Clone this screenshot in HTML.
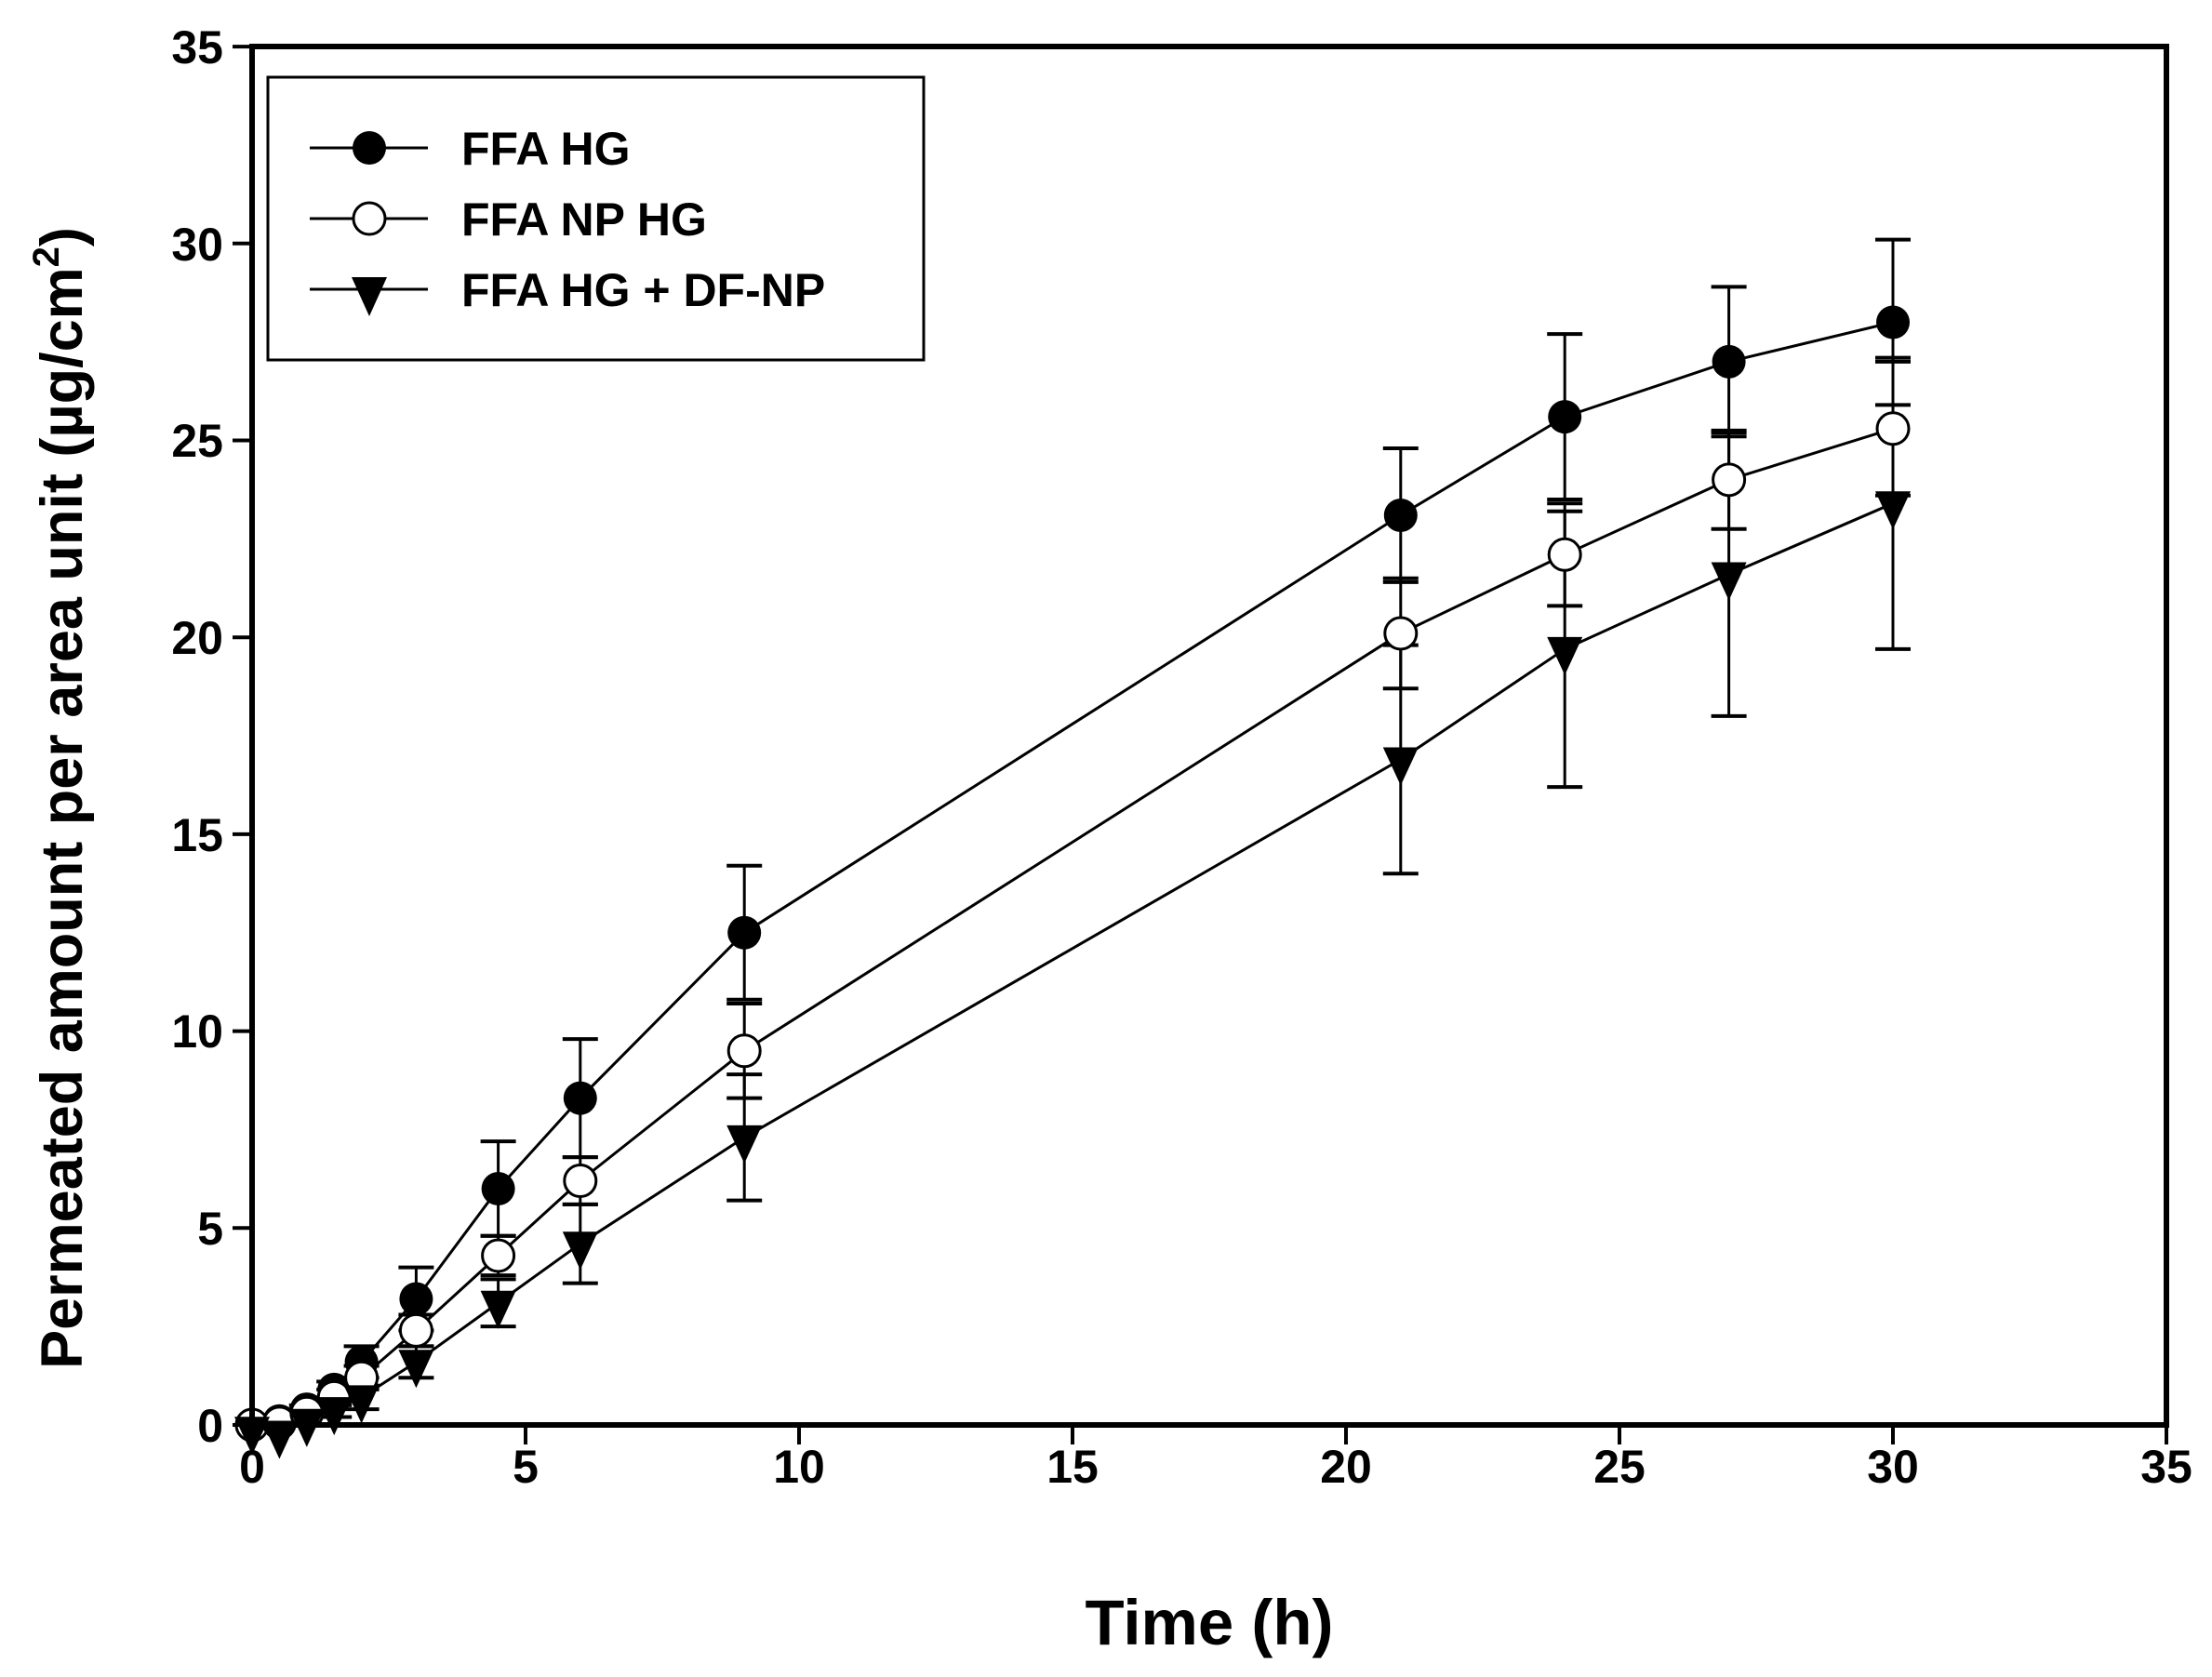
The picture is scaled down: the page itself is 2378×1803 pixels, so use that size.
<!DOCTYPE html>
<html><head><meta charset="utf-8"><style>
html,body{margin:0;padding:0;background:#fff}
svg{display:block}
text{font-family:"Liberation Sans",Arial,sans-serif;font-weight:bold;fill:#000}
</style></head><body>
<svg id="s" width="2378" height="1803" viewBox="0 0 2378 1803" xmlns="http://www.w3.org/2000/svg">
<rect width="2378" height="1803" fill="#fff"/>
<g id="data"></g>
<rect x="271" y="50" width="2058" height="1482" fill="none" stroke="#000" stroke-width="6"/>
<g stroke="#000" stroke-width="4" id="ticks"></g>
<g font-size="50" text-anchor="middle">
<text x="271" y="1594">0</text><text x="565" y="1594">5</text><text x="859" y="1594">10</text>
<text x="1153" y="1594">15</text><text x="1447" y="1594">20</text><text x="1741" y="1594">25</text>
<text x="2035" y="1594">30</text><text x="2329" y="1594">35</text>
</g>
<g font-size="50" text-anchor="end">
<text x="240" y="1550">0</text><text x="240" y="1338">5</text><text x="240" y="1126">10</text>
<text x="240" y="915">15</text><text x="240" y="703">20</text><text x="240" y="491">25</text>
<text x="240" y="280">30</text><text x="240" y="68">35</text>
</g>
<text x="1300" y="1768" font-size="69" text-anchor="middle">Time (h)</text>
<text transform="translate(88,858) rotate(-90)" font-size="63" text-anchor="middle">Permeated amount per area unit (µg/cm<tspan dy="-25" font-size="40">2</tspan><tspan dy="25">)</tspan></text>
<rect x="288" y="83" width="705" height="304" fill="#fff" stroke="#000" stroke-width="3"/>
<g stroke="#000" stroke-width="3">
<line x1="333" y1="159" x2="460" y2="159"/><line x1="333" y1="235" x2="460" y2="235"/><line x1="333" y1="311" x2="460" y2="311"/>
</g>
<circle cx="397" cy="159" r="18" fill="#000"/>
<circle cx="397" cy="235" r="17" fill="#fff" stroke="#000" stroke-width="3"/>
<polygon points="378,298 416,298 397,340" fill="#000"/>
<g font-size="50">
<text x="496" y="177">FFA HG</text><text x="496" y="253">FFA NP HG</text><text x="496" y="329">FFA HG + DF-NP</text>
</g>
</svg>
<script>
var X=v=>271+58.8*v, Y=v=>1532-42.34*v;
var T=[0,0.5,1,1.5,2,3,4.5,6,9,21,24,27,30];
var S=[
 {y:[0,0.1,0.4,0.9,1.6,3.2,6.0,8.3,12.5,23.1,25.6,27.0,28.0],e:[0,0,0.1,0.2,0.4,0.8,1.2,1.5,1.7,1.7,2.1,1.9,2.1],m:'c'},
 {y:[0,0.05,0.3,0.7,1.2,2.4,4.3,6.2,9.5,20.1,22.1,24.0,25.3],e:[0,0,0.1,0.2,0.3,0.4,0.5,0.6,1.2,1.4,1.3,1.25,1.7],m:'o'},
 {y:[-0.1,-0.2,0.1,0.4,0.7,1.6,3.1,4.6,7.3,16.9,19.7,21.6,23.4],e:[0,0,0.1,0.2,0.3,0.4,0.6,1.0,1.6,2.9,3.5,3.6,3.7],m:'t'}];
var h='';
S.forEach(s=>{
 var p=T.map((t,i)=>X(t).toFixed(1)+','+Y(s.y[i]).toFixed(1)).join(' ');
 h+='<polyline points="'+p+'" fill="none" stroke="#000" stroke-width="3"/>';
 T.forEach((t,i)=>{var x=X(t),e=s.e[i];if(e>0){var a=Y(s.y[i]+e),b=Y(s.y[i]-e);
  h+='<line x1="'+x+'" y1="'+a+'" x2="'+x+'" y2="'+b+'" stroke="#000" stroke-width="3"/>';
  h+='<line x1="'+(x-19)+'" y1="'+a+'" x2="'+(x+19)+'" y2="'+a+'" stroke="#000" stroke-width="4"/>';
  h+='<line x1="'+(x-19)+'" y1="'+b+'" x2="'+(x+19)+'" y2="'+b+'" stroke="#000" stroke-width="4"/>';}});
});
S.forEach(s=>{T.forEach((t,i)=>{var x=X(t),y=Y(s.y[i]);
 if(s.m=='c')h+='<circle cx="'+x+'" cy="'+y+'" r="18" fill="#000"/>';
 else if(s.m=='o')h+='<circle cx="'+x+'" cy="'+y+'" r="17" fill="#fff" stroke="#000" stroke-width="3"/>';
 else h+='<polygon points="'+(x-19)+','+(y-13)+' '+(x+19)+','+(y-13)+' '+x+','+(y+28)+'" fill="#000"/>';});});
document.getElementById('data').innerHTML=h;
var k='';
for(var i=0;i<=7;i++){var x=X(5*i),y=Y(5*i);
 k+='<line x1="'+x+'" y1="1532" x2="'+x+'" y2="1553"/>';
 k+='<line x1="250" y1="'+y+'" x2="271" y2="'+y+'"/>';}
document.getElementById('ticks').innerHTML=k;
</script>
</body></html>
